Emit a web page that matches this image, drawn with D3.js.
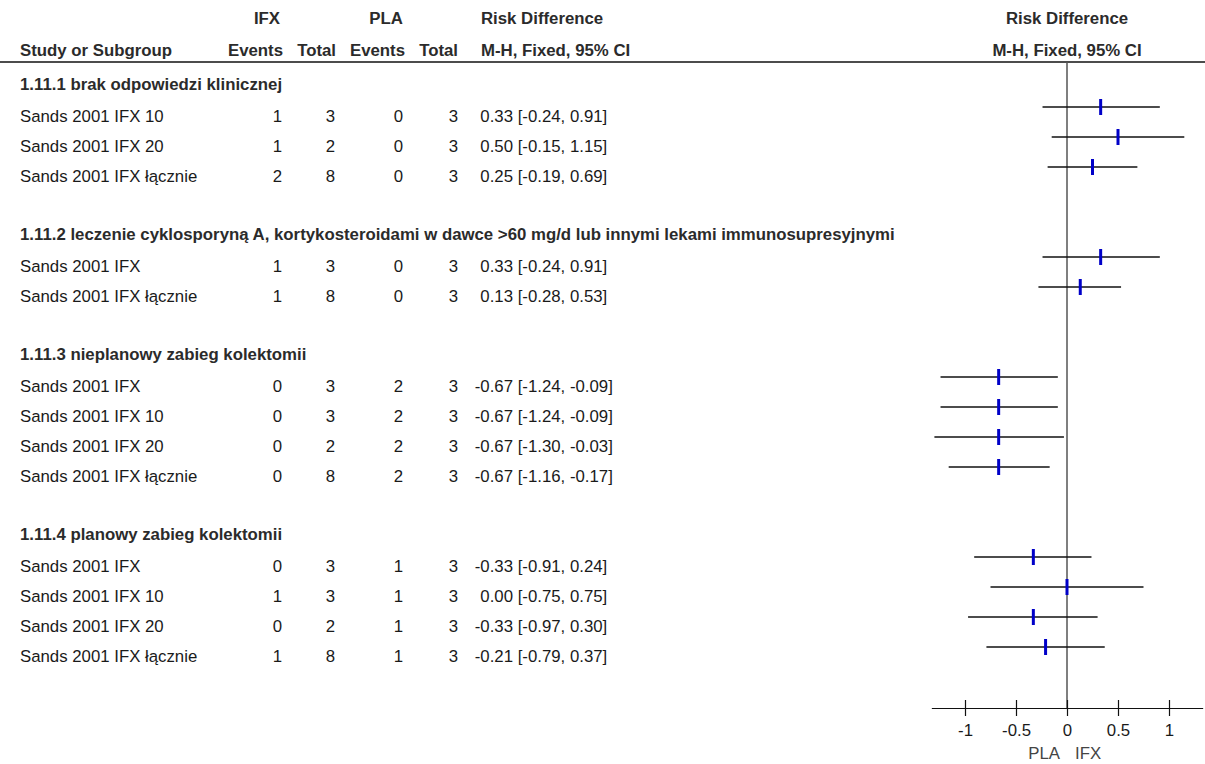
<!DOCTYPE html>
<html>
<head>
<meta charset="utf-8">
<script src="https://cdn.jsdelivr.net/npm/d3@7"></script>
<style>
  html, body { margin: 0; padding: 0; background: #fff; }
  svg { display: block; font-family: "Liberation Sans", Arial, sans-serif; }
</style>
</head>
<body>
<svg id="chart" width="1205" height="764"></svg>
<script>
// Subgroup headings
const groupTitles = [
  "1.11.1 brak odpowiedzi klinicznej",
  "1.11.2 leczenie cyklosporyną A, kortykosteroidami w dawce >60 mg/d lub innymi lekami immunosupresyjnymi",
  "1.11.3 nieplanowy zabieg kolektomii",
  "1.11.4 planowy zabieg kolektomii"
];

// Study rows (index into groupTitles)
const studyGroup = [0, 0, 0, 1, 1, 2, 2, 2, 2, 3, 3, 3, 3];
const studyNames = [
  "Sands 2001 IFX 10", "Sands 2001 IFX 20", "Sands 2001 IFX łącznie",
  "Sands 2001 IFX", "Sands 2001 IFX łącznie",
  "Sands 2001 IFX", "Sands 2001 IFX 10", "Sands 2001 IFX 20", "Sands 2001 IFX łącznie",
  "Sands 2001 IFX", "Sands 2001 IFX 10", "Sands 2001 IFX 20", "Sands 2001 IFX łącznie"
];
const ifxEvents = [1, 1, 2, 1, 1, 0, 0, 0, 0, 0, 1, 0, 1];
const ifxTotal  = [3, 2, 8, 3, 8, 3, 3, 2, 8, 3, 3, 2, 8];
const plaEvents = [0, 0, 0, 0, 0, 2, 2, 2, 2, 1, 1, 1, 1];
const plaTotal  = [3, 3, 3, 3, 3, 3, 3, 3, 3, 3, 3, 3, 3];
const riskDiff  = [0.33, 0.50, 0.25, 0.33, 0.13, -0.67, -0.67, -0.67, -0.67, -0.33, 0.00, -0.33, -0.21];
const ciLow     = [-0.24, -0.15, -0.19, -0.24, -0.28, -1.24, -1.24, -1.30, -1.16, -0.91, -0.75, -0.97, -0.79];
const ciHigh    = [0.91, 1.15, 0.69, 0.91, 0.53, -0.09, -0.09, -0.03, -0.17, 0.24, 0.75, 0.30, 0.37];

// Axis
const tickValues = [-1, -0.5, 0, 0.5, 1];
const tickLabels = ["-1", "-0.5", "0", "0.5", "1"];
const axisDomain = [-1.33, 1.33];
const favourLabels = ["PLA", "IFX"];

const svg = d3.select("#chart");
const W = 1205;
const FS = 16.8;
const textColor = "#1a1a1a";
const boldColor = "#2b2b2b";

// Hyphen-minus for negative values, two decimals
const fmt = d3.formatLocale({ decimal: ".", thousands: ",", grouping: [3], currency: ["", ""], minus: "-" }).format(".2f");

// Lay rows out on slots: heading, studies, blank line between subgroups
const rows = [];
let slot = 0;
groupTitles.forEach((title, g) => {
  rows.push({ type: "group", slot: slot++, title });
  studyGroup.forEach((sg, i) => { if (sg === g) rows.push({ type: "study", slot: slot++, i }); });
  slot++;
});

const rowY = d3.scaleLinear().domain([0, 1]).range([77, 107]); // y of a row's CI line
const textDy = 14.5;

const x = d3.scaleLinear().domain(axisDomain).range([1067 - 1.33 * 102, 1067 + 1.33 * 102]);
const axisY = 708;
const topRule = 62;

function txt(xp, yp, s, anchor, isBold, color) {
  const t = svg.append("text")
    .attr("x", xp).attr("y", yp)
    .attr("font-size", FS)
    .attr("text-anchor", anchor || "start")
    .attr("fill", color || (isBold ? boldColor : textColor))
    .text(s);
  if (isBold) t.attr("font-weight", "bold");
  return t;
}

// Column headers
txt(267, 24, "IFX", "middle", true);
txt(386, 24, "PLA", "middle", true);
txt(481, 24, "Risk Difference", "start", true);
txt(1067, 24, "Risk Difference", "middle", true);

const colRight = [283, 336, 405, 458];
txt(20, 56, "Study or Subgroup", "start", true);
txt(colRight[0], 56, "Events", "end", true);
txt(colRight[1], 56, "Total", "end", true);
txt(colRight[2], 56, "Events", "end", true);
txt(colRight[3], 56, "Total", "end", true);
txt(481, 56, "M-H, Fixed, 95% CI", "start", true);
txt(1067, 56, "M-H, Fixed, 95% CI", "middle", true);

svg.append("line")
  .attr("x1", 0).attr("x2", W)
  .attr("y1", topRule).attr("y2", topRule)
  .attr("stroke", "#111").attr("stroke-width", 1.5);

// Line of no effect
svg.append("line")
  .attr("x1", x(0)).attr("x2", x(0))
  .attr("y1", topRule).attr("y2", axisY)
  .attr("stroke", "#555").attr("stroke-width", 1.5);

const estRight = 513;

rows.forEach(r => {
  const y = rowY(r.slot);
  if (r.type === "group") {
    txt(20, y + textDy - 1.5, r.title, "start", true);
    return;
  }
  const i = r.i;
  txt(20, y + textDy, studyNames[i]);
  txt(colRight[0] - 1, y + textDy, ifxEvents[i], "end");
  txt(colRight[1] - 1, y + textDy, ifxTotal[i], "end");
  txt(colRight[2] - 2, y + textDy, plaEvents[i], "end");
  txt(colRight[3], y + textDy, plaTotal[i], "end");
  txt(estRight, y + textDy, fmt(riskDiff[i]), "end");
  txt(estRight + 4.7, y + textDy, "[" + fmt(ciLow[i]) + ", " + fmt(ciHigh[i]) + "]", "start");

  svg.append("line")
    .attr("x1", x(ciLow[i])).attr("x2", x(ciHigh[i]))
    .attr("y1", y).attr("y2", y)
    .attr("stroke", "#111").attr("stroke-width", 1.6);
  svg.append("rect")
    .attr("x", x(riskDiff[i]) - 1.5).attr("y", y - 8)
    .attr("width", 3).attr("height", 16)
    .attr("fill", "#0000c8");
});

// Bottom axis with ticks crossing the line
const axis = d3.axisBottom(x)
  .tickValues(tickValues)
  .tickFormat((d, k) => tickLabels[k])
  .tickSizeOuter(0)
  .tickSizeInner(8)
  .tickPadding(8);

const gAxis = svg.append("g")
  .attr("transform", `translate(0,${axisY})`)
  .call(axis);
gAxis.select(".domain").attr("stroke", "#111").attr("stroke-width", 1.2);
gAxis.selectAll(".tick line").attr("y1", -8).attr("y2", 8).attr("stroke", "#111").attr("stroke-width", 1.2);
gAxis.selectAll(".tick text")
  .attr("font-size", FS)
  .attr("font-family", "Liberation Sans, Arial, sans-serif")
  .attr("fill", textColor);

txt(x(0) - 7, 759, favourLabels[0], "end", false, "#444");
txt(x(0) + 8, 759, favourLabels[1], "start", false, "#444");
</script>
</body>
</html>
